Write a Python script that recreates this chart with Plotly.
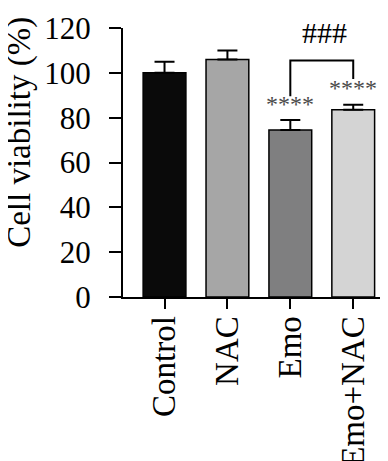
import plotly.graph_objects as go

categories = ["Control", "NAC", "Emo", "Emo+NAC"]
means = [100, 106, 74.5, 83.5]
errors = [5, 4, 4.5, 2.3]
colors = ["#0a0a0a", "#a6a6a6", "#7f7f80", "#d4d4d4"]
y_ticks = [0, 20, 40, 60, 80, 100, 120]
star_labels = ["", "", "****", "****"]
star_y = [None, None, 86.2, 93.4]
bracket_x = [2, 2, 3, 3]
bracket_y = [89.6, 105.5, 105.5, 97.3]
hash_label = "###"
hash_pos = (2.55, 117.8)

xpos = list(range(len(categories)))

fig = go.Figure()
fig.add_trace(go.Bar(
    x=xpos, y=means, width=0.68,
    marker=dict(color=colors, line=dict(color="#000000", width=1.5)),
    error_y=dict(type="data", array=errors, arrayminus=[0]*len(errors),
                 symmetric=False, color="#000000", thickness=2, width=10),
    showlegend=False,
))
fig.add_trace(go.Scatter(
    x=bracket_x, y=bracket_y, mode="lines",
    line=dict(color="#000000", width=2), showlegend=False, hoverinfo="skip",
))

for i, lab in enumerate(star_labels):
    if lab:
        fig.add_annotation(x=xpos[i], y=star_y[i], text=lab, showarrow=False,
                           font=dict(family="Liberation Serif", size=24, color="#4a4a4a"),
                           xanchor="center", yanchor="middle")
fig.add_annotation(x=hash_pos[0], y=hash_pos[1], text=hash_label, showarrow=False,
                   font=dict(family="Liberation Serif", size=30, color="#000000"),
                   xanchor="center", yanchor="middle")
fig.add_annotation(xref="paper", yref="paper", x=-0.382, y=0.613,
                   text="Cell viability (%)", textangle=-90, showarrow=False,
                   font=dict(family="Liberation Serif", size=33, color="#000000"),
                   xanchor="center", yanchor="middle")

fig.update_layout(
    width=388, height=461,
    margin=dict(l=115, r=0, t=20, b=172),
    paper_bgcolor="white", plot_bgcolor="white",
    font=dict(family="Liberation Serif", color="#000000"),
    xaxis=dict(range=[-0.66, 3.68], tickmode="array", tickvals=xpos, ticktext=categories,
               tickangle=-90, ticks="outside", ticklen=10, tickwidth=2, tickcolor="#000000",
               ticklabelstandoff=-6,
               showline=True, linecolor="#000000", linewidth=2, showgrid=False, zeroline=False,
               tickfont=dict(family="Liberation Serif", size=33, color="#000000")),
    yaxis=dict(range=[0, 120], tickmode="array", tickvals=y_ticks,
               ticks="outside", ticklen=12, tickwidth=2, tickcolor="#000000",
               ticklabelstandoff=12,
               showline=True, linecolor="#000000", linewidth=2, showgrid=False, zeroline=False,
               tickfont=dict(family="Liberation Serif", size=31, color="#000000")),
)

fig.write_html("out.html")
